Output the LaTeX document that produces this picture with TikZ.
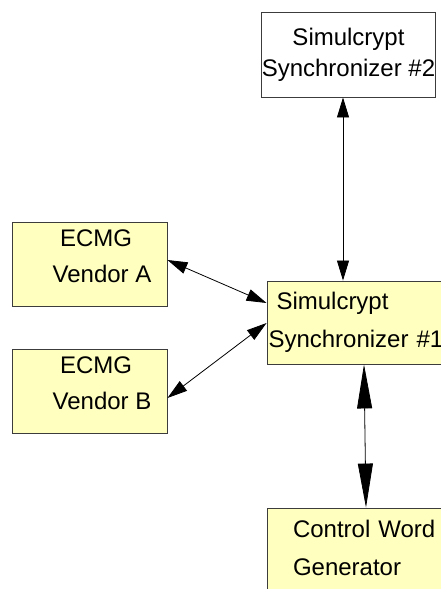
\documentclass[tikz,border=0pt]{standalone}
\usepackage{fontspec}
\setmainfont{Liberation Sans}
\usepackage{tikz}
\usetikzlibrary{arrows.meta}
\definecolor{boxyellow}{RGB}{255,255,192}
\definecolor{boxline}{RGB}{60,60,60}
\begin{document}
\begin{tikzpicture}[x=1pt, y=-1pt,
    box/.style={draw=boxline, line width=0.9pt, fill=boxyellow, inner sep=0pt,
        font=\fontsize{24}{38}\selectfont},
    link/.style={line width=0.8pt, {Triangle[length=20pt,width=12pt]}-{Triangle[length=20pt,width=12pt]}},
    biglink/.style={line width=0.8pt, {Triangle[length=44pt,width=15pt]}-{Triangle[length=44pt,width=15pt]}}]
    \useasboundingbox (0,0) rectangle (441,589);
    \clip (0,0) rectangle (441,589);
    \node[box, fill=white, minimum width=171pt, minimum height=85pt, align=center] (sync2)
        at (348.5,54.5) {Simulcrypt\\[-7pt]Synchronizer \#2};
    \node[box, minimum width=155pt, minimum height=84pt, align=center, text depth=16pt] (vendora)
        at (89.5,264) {\hspace*{13pt}ECMG\\[-2pt]\hspace*{25pt}Vendor A};
    \node[box, minimum width=155pt, minimum height=84pt, align=center, text depth=16pt] (vendorb)
        at (89.5,391) {\hspace*{13pt}ECMG\\[-2pt]\hspace*{25pt}Vendor B};
    \node[box, minimum width=178pt, minimum height=83pt, text width=175pt, align=left] (sync1)
        at (356,322.5) {\hspace*{8pt}Simulcrypt\\Synchronizer \#1};
    \node[box, minimum width=178pt, minimum height=88pt, text width=162pt, align=left, text depth=46pt] (cwg)
        at (356,552) {\hspace*{18pt}Control Word\\\hspace*{18pt}Generator};
    \draw[link] ([xshift=-5.5pt]sync2.south) -- ([xshift=-13pt]sync1.north);
    \draw[link] ([yshift=4pt]vendora.east) -- ([yshift=19.5pt]sync1.west);
    \draw[link] ([yshift=-7pt]vendorb.east) -- ([yshift=-0.5pt]sync1.west);
    \draw[biglink] ([xshift=8pt]sync1.south) -- ([xshift=10pt]cwg.north);
\end{tikzpicture}
\end{document}
